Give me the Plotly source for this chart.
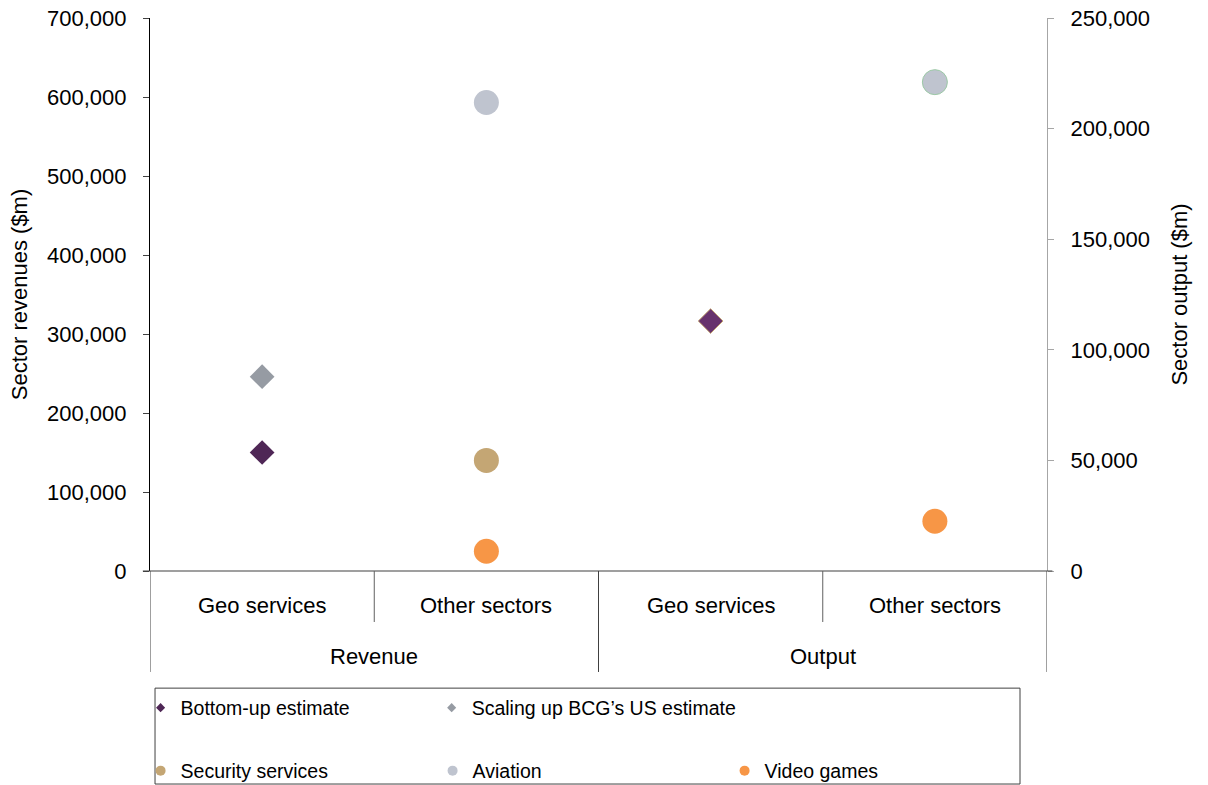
import plotly.graph_objects as go

# Category layout: outer group / inner category for the four columns
groups = ["Revenue", "Revenue", "Output", "Output"]
categories = ["Geo services", "Other sectors", "Geo services", "Other sectors"]
positions = [0, 1, 2, 3]

# Revenue values ($m, left axis)
rev_bottom_up = [150000]
rev_bcg = [246000]
rev_security = [140000]
rev_aviation = [593000]
rev_video = [25000]

# Output values ($m, right axis)
out_bottom_up = [113000]
out_aviation = [221000]
out_video = [22500]

left_ticks = [0, 100000, 200000, 300000, 400000, 500000, 600000, 700000]
right_ticks = [0, 50000, 100000, 150000, 200000, 250000]

FONT = "Liberation Sans, Arial, sans-serif"
PURPLE = "#4f2756"
PURPLE_LIGHT = "#67326d"
BCG_GREY = "#969ba3"
TAN = "#c4a674"
AVIATION = "#bfc4cf"
ORANGE = "#f79646"

fig = go.Figure()

# Revenue points (left axis)
fig.add_trace(go.Scatter(x=[positions[0]], y=rev_bottom_up, mode="markers", showlegend=False,
                         marker=dict(symbol="diamond", size=19, color=PURPLE, line=dict(width=0))))
fig.add_trace(go.Scatter(x=[positions[0]], y=rev_bcg, mode="markers", showlegend=False,
                         marker=dict(symbol="diamond", size=19, color=BCG_GREY, line=dict(width=0))))
fig.add_trace(go.Scatter(x=[positions[1]], y=rev_security, mode="markers", showlegend=False,
                         marker=dict(symbol="circle", size=25, color=TAN, line=dict(width=0))))
fig.add_trace(go.Scatter(x=[positions[1]], y=rev_aviation, mode="markers", showlegend=False,
                         marker=dict(symbol="circle", size=25, color=AVIATION, line=dict(width=0))))
fig.add_trace(go.Scatter(x=[positions[1]], y=rev_video, mode="markers", showlegend=False,
                         marker=dict(symbol="circle", size=25, color=ORANGE, line=dict(width=0))))

# Output points (right axis)
fig.add_trace(go.Scatter(x=[positions[2]], y=out_bottom_up, yaxis="y2", mode="markers", showlegend=False,
                         marker=dict(symbol="diamond", size=19, color=PURPLE_LIGHT, line=dict(width=1, color=TAN))))
fig.add_trace(go.Scatter(x=[positions[3]], y=out_aviation, yaxis="y2", mode="markers", showlegend=False,
                         marker=dict(symbol="circle", size=25, color=AVIATION, line=dict(width=1, color="#9cc9a6"))))
fig.add_trace(go.Scatter(x=[positions[3]], y=out_video, yaxis="y2", mode="markers", showlegend=False,
                         marker=dict(symbol="circle", size=25, color=ORANGE, line=dict(width=0))))

# Legend entries (small key symbols); the second entry of the top row sits in its own box
legend_rows = [
    ("legend", "Bottom-up estimate", "diamond", 7, PURPLE),
    ("legend3", "Scaling up BCG\u2019s US estimate", "diamond", 7, BCG_GREY),
    ("legend2", "Security services", "circle", 10, TAN),
    ("legend2", "Aviation", "circle", 10, AVIATION),
    ("legend2", "Video games", "circle", 10, ORANGE),
]
for lg, name, sym, sz, col in legend_rows:
    fig.add_trace(go.Scatter(x=[None], y=[None], mode="markers", name=name, legend=lg,
                             marker=dict(symbol=sym, size=sz, color=col, line=dict(width=0))))

# Category labels below the axis
annotations = []
for p, c in zip(positions, categories):
    annotations.append(dict(x=p, y=-0.0615, xref="x", yref="paper", text=c, showarrow=False,
                            font=dict(size=22, color="black", family=FONT), xanchor="center", yanchor="middle"))
for g in sorted(set(groups), key=groups.index):
    idx = [i for i, gg in enumerate(groups) if gg == g]
    centre = sum(positions[i] for i in idx) / len(idx)
    annotations.append(dict(x=centre, y=-0.1555, xref="x", yref="paper", text=g, showarrow=False,
                            font=dict(size=22, color="black", family=FONT), xanchor="center", yanchor="middle"))

# Divider lines of the two-level category axis
shapes = [dict(type="line", xref="paper", yref="paper", x0=-0.008, x1=1.006, y0=0, y1=0,
               line=dict(color="#404040", width=1.2))]
for b in [-0.5, 1.5, 3.5]:
    shapes.append(dict(type="line", xref="x", yref="paper", x0=b, x1=b, y0=0, y1=-0.1826,
                       line=dict(color="#404040", width=1)))
for b in [0.5, 2.5]:
    shapes.append(dict(type="line", xref="x", yref="paper", x0=b, x1=b, y0=0, y1=-0.0922,
                       line=dict(color="#606060", width=1)))
# Legend frame
shapes.append(dict(type="rect", xref="paper", yref="paper", x0=0.0056, x1=0.9699, y0=-0.2118, y1=-0.3852,
                   line=dict(color="#404040", width=1), fillcolor="rgba(0,0,0,0)"))

legend_common = dict(orientation="h", entrywidth=247, entrywidthmode="pixels", itemwidth=30,
                     font=dict(size=19.5, color="black", family=FONT), bgcolor="rgba(0,0,0,0)",
                     xanchor="left", yanchor="middle", tracegroupgap=0)

fig.update_layout(
    width=1208, height=785,
    margin=dict(l=150, r=161, t=18, b=214, autoexpand=False),
    paper_bgcolor="white", plot_bgcolor="white",
    font=dict(family=FONT, color="black"),
    shapes=shapes,
    annotations=annotations,
    legend=dict(x=-0.0105, y=-0.2477, **legend_common),
    legend3=dict(x=0.3140, y=-0.2477, orientation="h", itemwidth=30,
                 font=dict(size=19.5, color="black", family=FONT), bgcolor="rgba(0,0,0,0)",
                 xanchor="left", yanchor="middle"),
    legend2=dict(x=-0.0105, y=-0.3616, **legend_common),
    xaxis=dict(range=[-0.5, 3.5], showticklabels=False, ticks="", showgrid=False, zeroline=False,
               showline=False, automargin=False),
    yaxis=dict(range=[0, 700000], tickvals=left_ticks, tickformat=",", showgrid=False, zeroline=False,
               showline=True, linecolor="black", linewidth=1.2, ticks="outside", ticklen=6,
               tickcolor="#404040", tickfont=dict(size=22, color="black", family=FONT),
               ticklabelstandoff=12, automargin=False,
               title=dict(text="Sector revenues ($m)", font=dict(size=22, color="black", family=FONT),
                          standoff=13)),
    yaxis2=dict(range=[0, 250000], tickvals=right_ticks, tickformat=",", overlaying="y", side="right",
                showgrid=False, zeroline=False, showline=True, linecolor="#a6a6a6", linewidth=1.2,
                ticks="outside", ticklen=6, tickcolor="#a6a6a6",
                tickfont=dict(size=22, color="black", family=FONT), ticklabelstandoff=12,
                automargin=False,
                title=dict(text="Sector output ($m)", font=dict(size=22, color="black", family=FONT),
                           standoff=22)),
)

fig.write_html("out.html")
